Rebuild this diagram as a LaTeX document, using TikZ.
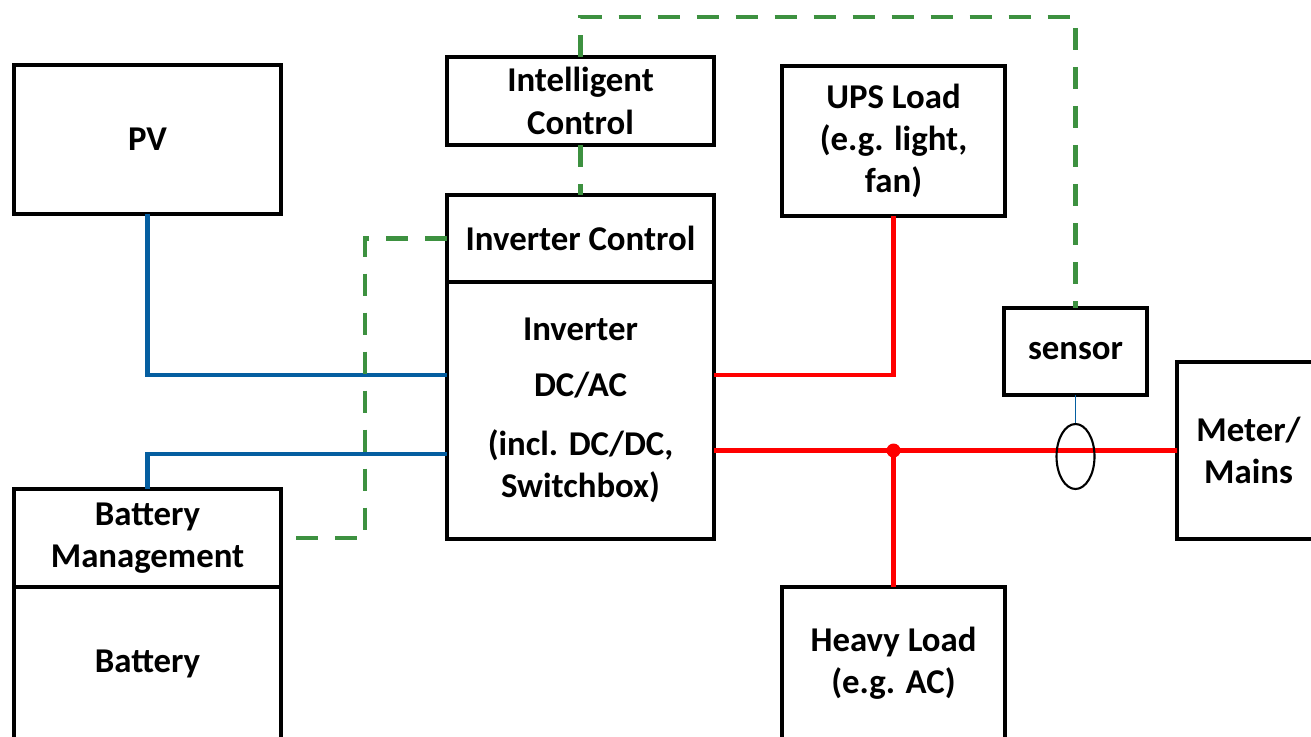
\documentclass[tikz,border=0pt]{standalone}
\usepackage{fontspec}
\setmainfont{Carlito}
\usetikzlibrary{positioning,shapes.geometric}

\definecolor{dcblue}{RGB}{5,94,160}
\definecolor{ctrlgreen}{RGB}{61,145,64}

\begin{document}
\begin{tikzpicture}[
  blk/.style={draw,line width=1.3pt,rectangle,inner sep=0pt,outer sep=0pt,align=center,
    font=\bfseries\fontsize{9.9}{12}\selectfont},
  dcline/.style={dcblue,line width=1.3pt},
  acline/.style={red,line width=1.3pt},
  ctrl/.style={ctrlgreen,line width=1.3pt,dash pattern=on 0.22cm off 0.17cm}]
\useasboundingbox (0,0) rectangle (13.11,-7.36);
\clip (0,0) rectangle (13.11,-7.36);

% Blocks
\node[blk,minimum width=2.67cm,minimum height=1.49cm] (pv) at (1.475,-1.395) {PV};
\node[blk,minimum width=2.67cm,minimum height=0.88cm] (intel) at (5.805,-1.01) {Intelligent\\Control};
\node[blk,minimum width=2.67cm,minimum height=0.87cm] (invctrl) at (5.805,-2.385) {Inverter Control};
\node[blk,minimum width=2.67cm,minimum height=2.57cm,below=0pt of invctrl] (inverter)
  {Inverter\\[0.13cm] DC/AC\\[0.17cm] (incl. DC/DC,\\ Switchbox)};
\node[blk,minimum width=2.23cm,minimum height=1.50cm] (ups) at (8.935,-1.41) {UPS Load\\(e.g. light,\\fan)};
\node[blk,minimum width=1.43cm,minimum height=0.87cm] (sensor) at (10.755,-3.515) {sensor};
\node[blk,minimum width=1.43cm,minimum height=1.77cm] (meter) at (12.485,-4.505) {Meter/\\Mains};
\node[blk,minimum width=2.67cm,minimum height=0.98cm] (bms) at (1.475,-5.38) {Battery\\Management};
\node[blk,minimum width=2.67cm,minimum height=1.54cm,below=0pt of bms] (battery) {Battery};
\node[blk,minimum width=2.23cm,minimum height=1.53cm] (heavy) at (8.935,-6.635) {Heavy Load\\(e.g. AC)};

% DC side
\draw[dcline] (pv.south) |- ([yshift=0.355cm]inverter.west);
\draw[dcline] (bms.north) |- ([yshift=-0.435cm]inverter.west);

% AC side
\coordinate (jn) at (heavy.north |- meter.west);
\draw[acline] ([yshift=0.355cm]inverter.east) -| (ups.south);
\draw[acline] ([yshift=-0.40cm]inverter.east) -- (meter.west);
\draw[acline] (jn) -- (heavy.north);
\fill[red] (jn) circle (0.07);

% current sensor
\node[draw,ellipse,line width=0.6pt,minimum width=0.38cm,minimum height=0.65cm,inner sep=0pt]
  (ct) at ([yshift=-0.06cm]sensor.south |- meter.west) {};
\draw[dcblue,line width=0.5pt] (sensor.south) -- (ct.north);

% control links
\draw[ctrl] (intel.south) -- (invctrl.north);
\draw[ctrl] (invctrl.west) -- ++(-0.82,0) |- (bms.east);
\draw[ctrl] (intel.north) -- ++(0,0.40) -| (sensor.north);
\end{tikzpicture}
\end{document}
